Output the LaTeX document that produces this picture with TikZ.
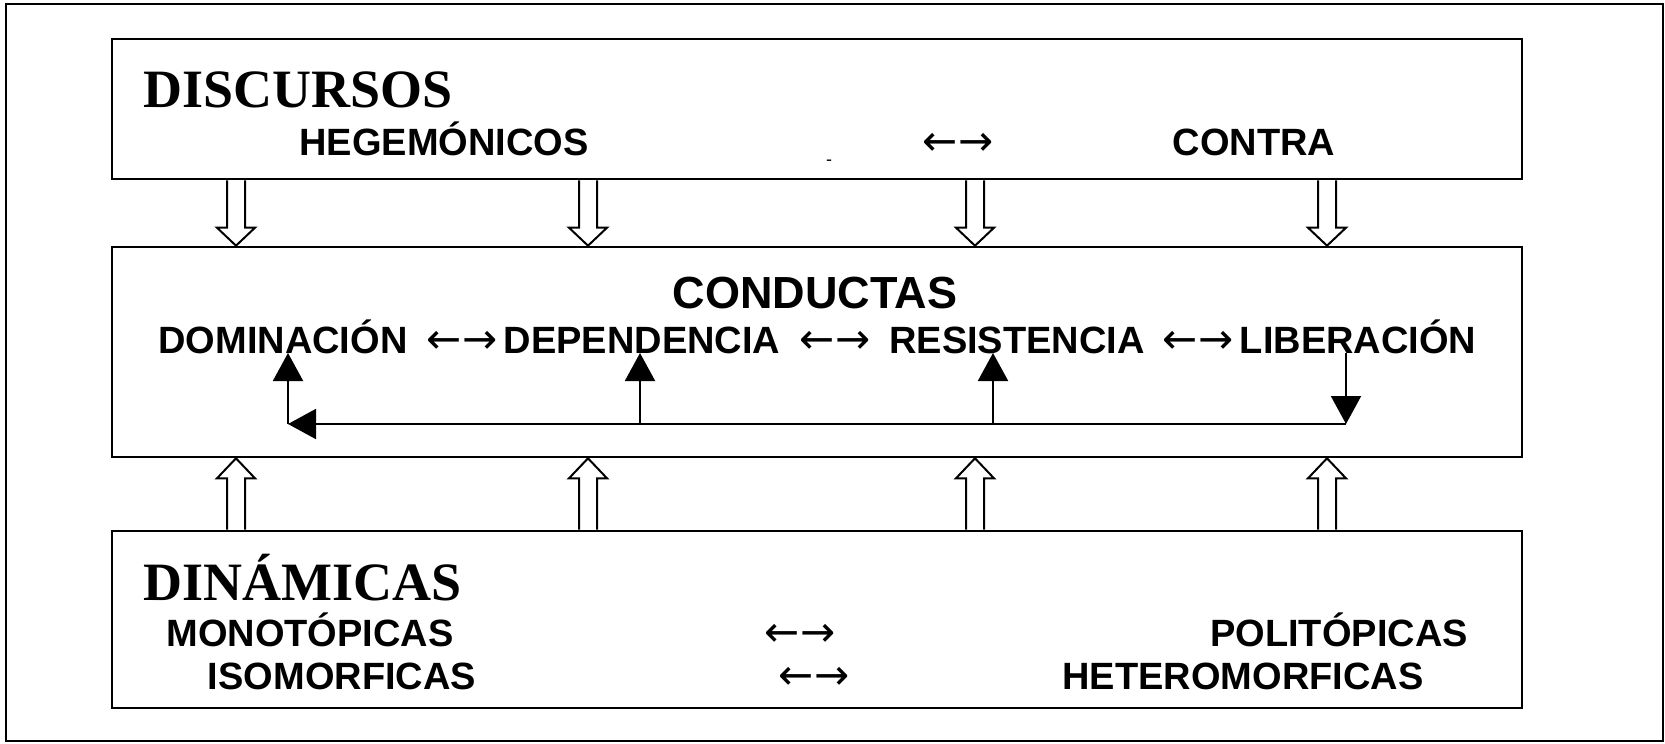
\documentclass[tikz,border=0pt]{standalone}
\usepackage{fontspec}
\setmainfont{Liberation Sans}
\newfontfamily\headfont{Liberation Serif}
\newfontfamily\arrowfont{DejaVu Sans}
\usetikzlibrary{arrows.meta,calc}
\tikzset{
	box/.style={draw, line width=1.3pt, inner sep=0pt},
	heading/.style={anchor=base west, inner sep=0pt, font=\headfont\bfseries\fontsize{27pt}{27pt}\selectfont},
	lbl/.style={anchor=base, inner sep=0pt, font=\bfseries\fontsize{19pt}{19pt}\selectfont},
	big/.style={lbl, font=\bfseries\fontsize{22.5pt}{22.5pt}\selectfont},
	dbl/.style={anchor=base, inner sep=0pt, font=\arrowfont\fontsize{21pt}{21pt}\selectfont},
	hollow/.style={draw, line width=1pt, line join=miter},
	fb/.style={line width=1pt, -{Triangle[length=14pt,width=15pt]}},
}
\begin{document}
\begin{tikzpicture}[x=0.5pt, y=-0.5pt]
	\useasboundingbox (0,0) rectangle (1665,744);
	\draw[line width=1.3pt] (6,4) rectangle (1663,741);
	% cajas
	\node[box, minimum width=705pt, minimum height=70pt] (disc) at (817,109) {};
	\node[box, minimum width=705pt, minimum height=105pt] (cond) at (817,352) {};
	\node[box, minimum width=705pt, minimum height=88.5pt] (din) at (817,619.5) {};
	% discursos
	\node[heading] (discT) at (143,107) {DISCURSOS};
	\node[lbl] (heg) at (444,155) {HEGEMÓNICOS};
	\node[dbl] (a0) at (958,155) {←→};
	\node[lbl] (contra) at (1254,155) {CONTRA};
	\node[inner sep=0pt, font=\fontsize{9pt}{9pt}\selectfont] (stray) at (829,163) {-};
	% conductas
	\node[big] (condT) at (815,308) {CONDUCTAS};
	\node[lbl] (dom) at (283,353) {DOMINACIÓN};
	\node[dbl] (a1) at (462,353) {←→};
	\node[lbl] (dep) at (642,353) {DEPENDENCIA};
	\node[dbl] (a2) at (835,353) {←→};
	\node[lbl] (res) at (1017,353) {RESISTENCIA};
	\node[dbl] (a3) at (1198,353) {←→};
	\node[lbl] (lib) at (1358,353) {LIBERACIÓN};
	% dinamicas
	\node[heading] (dinT) at (143,600) {DINÁMICAS};
	\node[lbl] (mono) at (310,646) {MONOTÓPICAS};
	\node[dbl] (a4) at (800,646) {←→};
	\node[lbl] (poli) at (1339,646) {POLITÓPICAS};
	\node[lbl] (iso) at (342,689) {ISOMORFICAS};
	\node[dbl] (a5) at (814,689) {←→};
	\node[lbl] (hetero) at (1243,689) {HETEROMORFICAS};
	% flechas huecas
	\foreach \x in {236,588,975,1327}{
		\draw[hollow] (\x-9,0 |- disc.south) -- ($(\x,0 |- cond.north)+(-9,-18)$) -- ++(-10,0)
			-- (\x,0 |- cond.north) -- ++(19,-18) -- ++(-10,0) -- (\x+9,0 |- disc.south);
		\draw[hollow] (\x-9,0 |- din.north) -- ($(\x,0 |- cond.south)+(-9,20)$) -- ++(-10,0)
			-- (\x,0 |- cond.south) -- ++(19,20) -- ++(-10,0) -- (\x+9,0 |- din.north);
	}
	% retroalimentacion
	\coordinate (c1) at (288,424);
	\coordinate (c2) at (640,424);
	\coordinate (c3) at (993,424);
	\coordinate (c4) at (1346,424);
	\draw[fb] (c4 |- lib.base) -- (c4);
	\draw[fb] (c4) -- (c1);
	\draw[fb] (c1) -- (c1 |- dom.base);
	\draw[fb] (c2) -- (c2 |- dep.base);
	\draw[fb] (c3) -- (c3 |- res.base);
\end{tikzpicture}
\end{document}
